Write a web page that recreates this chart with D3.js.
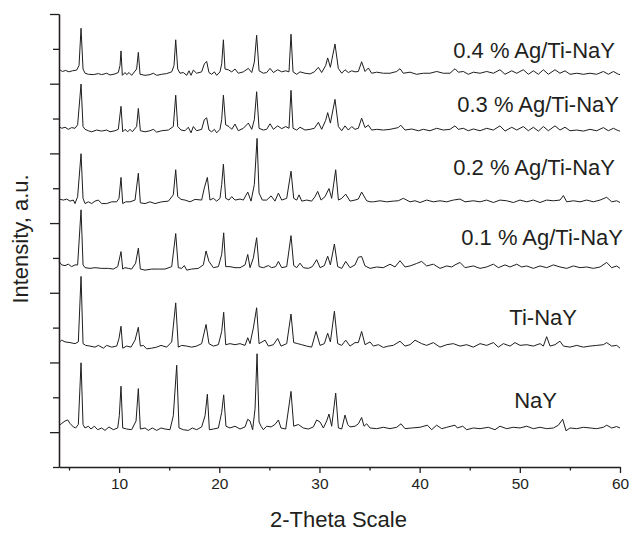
<!DOCTYPE html>
<html>
<head>
<meta charset="utf-8">
<script src="https://cdn.jsdelivr.net/npm/d3@7"></script>
<style>
  body { margin: 0; background: #fff; }
  svg { display: block; font-family: "Liberation Sans", Arial, sans-serif; }
</style>
</head>
<body>
<div id="chart"></div>
<script>
// sample names, bottom to top
const samples = ["NaY", "Ti-NaY", "0.1 % Ag/Ti-NaY", "0.2 % Ag/Ti-NaY", "0.3 % Ag/Ti-NaY", "0.4 % Ag/Ti-NaY"]

// vertical offset of each pattern (same units as intensity)
const offsets = [12, 247, 472, 661, 867, 1030]

// x axis ticks
const xMajor = [10, 20, 30, 40, 50, 60]
const xMinor = [5, 15, 25, 35, 45, 55]
// y axis ticks (no labels in the original)
const yMajor = [0, 200, 400, 600, 800, 1000, 1200]
const yMinor = [-100, 100, 300, 500, 700, 900, 1100]

// patterns: [2-theta, relative intensity]
const nay = [[4.00,7],[4.27,13],[4.60,20],[4.87,23],[5.10,13],[5.43,3],[5.66,0],[5.93,10],[6.20,187],[6.40,10],[6.60,0],[6.93,5],[7.19,-3],[7.53,5],[7.86,-5],[8.26,0],[8.59,-7],[8.99,3],[9.42,-5],[9.86,0],[10.02,35],[10.19,120],[10.36,0],[10.76,-3],[11.25,-5],[11.69,20],[11.92,113],[12.12,-3],[12.59,0],[12.92,-7],[13.32,0],[13.75,-7],[14.18,0],[14.58,-3],[15.08,-5],[15.41,35],[15.75,180],[15.98,0],[16.41,-5],[16.91,-7],[17.31,0],[17.74,-5],[18.24,3],[18.58,35],[18.81,97],[19.01,-5],[19.41,-3],[19.91,0],[20.24,45],[20.44,95],[20.67,5],[21.07,0],[21.57,5],[22.07,-3],[22.57,3],[22.84,25],[23.07,20],[23.33,-5],[23.57,55],[23.77,213],[23.97,17],[24.17,5],[24.40,-5],[24.73,5],[25.17,3],[25.56,10],[25.90,23],[26.16,0],[26.63,-3],[27.16,105],[27.43,5],[27.89,10],[28.39,0],[28.89,-3],[29.39,3],[29.72,23],[30.06,17],[30.39,0],[30.72,20],[30.95,40],[31.22,5],[31.62,100],[31.89,0],[32.22,-3],[32.55,37],[32.82,10],[33.05,3],[33.55,5],
  [33.88,12],[34.21,30],[34.45,5],[34.71,12],[35.05,0],[35.71,-2],[36.38,2],[37.04,-2],[37.71,2],[38.14,12],[38.54,-2],[39.20,0],[40.04,2],[40.77,8],[41.20,-5],[41.70,8],[42.20,-2],[42.70,2],[43.53,8],[43.76,0],[44.30,5],[44.70,-5],[45.36,0],[46.03,-2],[46.86,2],[47.52,-5],[48.02,5],[48.69,-2],[49.35,2],[50.02,0],[50.69,5],[51.35,-2],[52.02,2],[52.68,-2],[53.35,0],[53.85,8],[54.28,25],[54.61,-8],[55.01,0],[55.68,-2],[56.34,2],[57.01,0],[57.67,-2],[58.34,2],[58.67,8],[59.17,0],[59.67,4],[60.00,0]]

const tiNay = [[4.00,10],[4.27,17],[4.60,12],[5.10,10],[5.60,7],[5.93,12],[6.20,200],[6.40,7],[6.66,2],[7.09,0],[7.59,-3],[7.93,2],[8.43,-6],[8.76,2],[9.26,-3],[9.76,0],[9.99,22],[10.19,57],[10.36,-6],[10.76,0],[11.19,-3],[11.59,17],[11.92,54],[12.12,0],[12.42,2],[12.75,-8],[13.25,-6],[13.75,-3],[14.18,2],[14.75,-3],[15.25,12],[15.65,124],[15.91,-3],[16.25,2],[16.75,0],[17.24,-3],[17.74,0],[18.24,7],[18.68,62],[18.97,7],[19.41,0],[19.91,4],[20.24,42],[20.44,97],[20.64,4],[21.07,7],[21.57,4],[22.07,7],[22.57,2],[22.84,24],[23.07,7],[23.40,52],[23.73,110],[23.97,7],[24.57,17],[24.90,0],[25.40,4],[25.83,22],[26.16,0],[26.73,7],[27.16,92],[27.43,10],[27.83,7],[28.23,4],[28.73,0],[29.22,-3],[29.66,42],[30.06,2],[30.49,7],[30.82,37],[31.09,12],[31.49,100],[31.82,7],[32.22,2],[32.62,17],[33.05,0],[33.55,10],
  [33.88,10],[34.21,42],[34.55,4],[35.05,12],[35.38,0],[35.88,4],[36.38,-4],[36.88,0],[37.37,2],[38.04,14],[38.54,0],[39.04,4],[39.54,17],[39.87,12],[40.20,7],[40.70,2],[41.37,10],[42.03,-3],[42.70,4],[43.36,7],[44.03,0],[44.70,4],[45.36,-3],[46.03,7],[46.69,2],[47.36,10],[47.86,-3],[48.36,7],[49.02,0],[49.52,10],[50.02,2],[50.69,4],[51.35,0],[52.02,7],[52.35,0],[52.68,27],[53.02,0],[53.51,4],[54.01,14],[54.35,0],[55.01,-3],[55.68,2],[56.34,-3],[57.01,0],[57.67,2],[58.34,4],[58.67,10],[59.17,0],[59.67,2],[60.00,-6]]

const ag01 = [[4.00,18],[4.27,8],[4.60,6],[4.93,10],[5.26,3],[5.60,8],[5.86,8],[6.20,166],[6.40,8],[6.60,0],[7.09,-2],[7.59,0],[8.26,-2],[8.93,-2],[9.42,-4],[9.86,3],[10.19,46],[10.36,-4],[10.59,0],[10.92,-2],[11.25,-4],[11.65,13],[11.92,56],[12.12,-4],[12.59,-7],[13.25,-4],[13.92,-4],[14.58,-4],[15.25,3],[15.65,98],[15.91,0],[16.25,-2],[16.51,6],[16.75,-7],[17.24,-4],[17.91,-2],[18.41,8],[18.68,48],[18.97,18],[19.41,0],[19.91,3],[20.24,38],[20.44,100],[20.64,3],[21.07,3],[21.57,0],[22.07,0],[22.57,8],[22.84,38],[23.07,0],[23.40,28],[23.73,86],[23.97,3],[24.40,0],[24.90,6],[25.23,0],[25.63,3],[25.90,18],[26.23,0],[26.73,3],[27.16,92],[27.43,6],[27.73,0],[28.06,13],[28.39,0],[28.89,-2],[29.29,3],[29.72,23],[30.06,0],[30.49,6],[30.82,33],[31.09,8],[31.49,68],[31.82,3],[32.22,-2],[32.62,18],[33.05,0],[33.55,8],
  [33.88,30],[34.21,32],[34.55,5],[35.05,-2],[35.71,2],[36.38,0],[37.04,10],[37.54,2],[38.04,20],[38.54,2],[39.04,5],[39.70,12],[40.20,18],[40.70,5],[41.37,10],[42.03,-2],[42.70,5],[43.20,2],[43.53,8],[44.03,15],[44.53,0],[45.36,5],[46.03,-2],[46.69,2],[47.36,10],[47.86,0],[48.52,8],[49.02,2],[49.69,10],[50.19,2],[50.69,5],[51.35,-2],[52.02,5],[52.68,0],[53.35,8],[54.01,2],[54.68,-2],[55.35,5],[56.01,0],[56.68,2],[57.34,-2],[58.01,2],[58.67,15],[59.17,0],[59.67,5],[60.00,-2]]

const ag02 = [[4.00,8],[4.43,5],[4.77,8],[5.10,2],[5.43,5],[5.60,-5],[5.86,15],[6.20,138],[6.40,10],[6.60,-5],[6.93,0],[7.26,-5],[7.59,2],[7.93,5],[8.26,-5],[8.76,-5],[9.26,0],[9.76,0],[9.99,10],[10.19,70],[10.36,-5],[10.66,0],[11.09,0],[11.59,5],[11.92,82],[12.12,-3],[12.59,-5],[13.08,0],[13.58,-5],[14.25,0],[14.92,2],[15.41,20],[15.65,92],[15.85,15],[16.18,7],[16.58,5],[17.08,0],[17.58,7],[18.24,5],[18.51,40],[18.81,70],[19.07,5],[19.41,10],[19.74,2],[20.07,10],[20.24,50],[20.41,108],[20.64,10],[20.97,5],[21.24,15],[21.57,5],[22.07,8],[22.40,5],[22.84,28],[23.17,2],[23.50,50],[23.77,182],[23.97,25],[24.30,5],[24.73,5],[25.17,17],[25.56,2],[25.90,25],[26.23,5],[26.73,10],[27.16,88],[27.43,10],[27.73,5],[27.96,20],[28.23,2],[28.73,5],[29.22,2],[29.56,15],[29.82,30],[30.16,5],[30.56,15],[30.95,38],[31.22,10],[31.62,92],[31.89,5],[32.22,10],[32.62,22],[33.05,2],[33.55,5],
  [33.88,8],[34.21,28],[34.71,3],[35.05,0],[35.38,0],[36.05,3],[36.71,0],[37.37,2],[37.87,3],[38.37,10],[39.04,0],[39.54,3],[40.04,-2],[40.70,5],[41.37,0],[42.03,3],[42.70,0],[43.36,5],[44.03,8],[44.53,0],[45.36,3],[46.03,0],[46.69,5],[47.36,-2],[48.02,5],[48.69,3],[49.35,-2],[50.02,5],[50.69,0],[51.35,5],[52.02,-2],[52.68,5],[53.35,3],[54.01,5],[54.35,18],[54.68,0],[55.35,3],[56.01,0],[56.68,5],[57.34,0],[58.01,5],[58.67,13],[59.17,0],[59.67,3],[60.00,-2]]

const ag03 = [[4.00,10],[4.27,5],[4.60,8],[4.93,2],[5.26,7],[5.60,5],[5.86,15],[6.20,132],[6.40,10],[6.60,2],[6.93,-2],[7.26,-5],[7.76,0],[8.26,-3],[8.76,0],[9.09,-5],[9.59,-2],[9.92,2],[10.19,68],[10.36,-5],[10.59,2],[10.86,-5],[11.09,2],[11.32,-5],[11.75,10],[11.92,62],[12.12,-2],[12.59,-5],[13.08,-2],[13.42,2],[13.75,-6],[14.25,-2],[14.92,0],[15.41,10],[15.65,100],[15.85,10],[16.18,0],[16.58,-2],[16.91,8],[17.18,-8],[17.41,10],[17.74,-2],[18.24,2],[18.51,30],[18.74,35],[18.97,0],[19.24,-5],[19.51,2],[19.74,-8],[20.07,2],[20.24,30],[20.41,100],[20.64,15],[20.97,10],[21.24,2],[21.57,17],[21.90,-2],[22.40,5],[22.90,20],[23.24,2],[23.50,30],[23.73,110],[23.97,5],[24.40,0],[24.73,2],[25.07,18],[25.40,2],[25.83,12],[26.23,4],[26.63,10],[26.96,5],[27.16,114],[27.36,5],[27.73,0],[28.06,8],[28.56,0],[29.06,2],[29.49,5],[29.89,22],[30.22,2],[30.62,28],[30.82,50],[31.09,20],[31.55,88],[31.89,10],[32.22,-2],[32.55,12],[32.88,0],[33.22,10],[33.55,2],
  [33.88,5],[34.21,34],[34.55,7],[34.88,14],[35.21,0],[35.71,2],[36.38,0],[37.04,2],[37.87,7],[38.11,14],[38.54,0],[39.20,3],[39.87,-2],[40.37,2],[41.03,-2],[41.70,5],[42.37,0],[43.03,2],[43.53,12],[43.86,2],[44.36,5],[44.86,-2],[45.36,3],[46.03,-2],[46.69,5],[47.36,0],[48.02,12],[48.52,-3],[49.19,8],[49.69,0],[50.35,10],[50.85,-2],[51.35,8],[51.85,-3],[52.35,10],[52.85,-2],[53.51,12],[54.01,0],[54.51,8],[55.01,-2],[55.68,0],[56.34,-3],[57.01,2],[57.67,-2],[58.34,7],[58.84,-2],[59.34,5],[59.84,-2],[60.00,-3]]

const ag04 = [[4.00,12],[4.33,5],[4.67,8],[5.00,4],[5.33,7],[5.76,9],[6.00,22],[6.20,129],[6.40,12],[6.60,0],[6.93,-3],[7.43,-4],[7.93,-1],[8.26,-4],[8.76,0],[9.09,-5],[9.59,-2],[9.92,2],[10.09,22],[10.19,64],[10.32,-6],[10.59,2],[10.76,-4],[10.99,2],[11.25,-6],[11.75,12],[11.92,60],[12.09,-3],[12.59,-6],[13.08,-4],[13.42,0],[13.75,-6],[14.25,-3],[14.75,-1],[15.25,4],[15.48,22],[15.65,96],[15.85,12],[16.08,0],[16.41,2],[16.75,-6],[16.98,7],[17.18,-6],[17.41,9],[17.74,0],[18.24,4],[18.51,27],[18.74,34],[18.97,2],[19.24,-3],[19.51,4],[19.74,-6],[20.07,4],[20.24,27],[20.41,96],[20.57,12],[20.90,10],[21.24,4],[21.57,12],[21.90,0],[22.40,4],[22.90,14],[23.24,2],[23.50,32],[23.73,109],[23.97,7],[24.40,0],[24.73,2],[25.07,14],[25.40,2],[25.83,10],[26.23,4],[26.63,7],[26.96,4],[27.16,112],[27.36,4],[27.73,-3],[28.06,4],[28.56,0],[29.06,-2],[29.49,4],[29.89,17],[30.22,2],[30.62,22],[30.82,44],[31.09,17],[31.55,84],[31.88,14],[32.22,0],[32.55,10],[32.88,2],[33.22,7],[33.55,4],
  [33.88,5],[34.21,33],[34.55,5],[34.88,15],[35.21,0],[35.71,3],[36.38,0],[37.04,0],[37.71,5],[38.04,13],[38.37,0],[39.04,3],[39.70,-3],[40.37,0],[41.03,0],[41.70,5],[42.37,0],[43.03,0],[43.53,13],[43.86,3],[44.36,5],[44.86,-3],[45.36,3],[46.03,0],[46.69,5],[47.36,0],[48.02,10],[48.52,-3],[49.19,7],[49.69,0],[50.35,10],[50.85,-3],[51.35,7],[51.85,-3],[52.35,10],[52.85,-3],[53.51,10],[54.01,0],[54.51,7],[55.01,-3],[55.68,0],[56.34,-3],[57.01,0],[57.67,-3],[58.34,5],[58.84,-3],[59.34,5],[59.84,-3],[60.00,-4]]

const patterns = [nay, tiNay, ag01, ag02, ag03, ag04]

// LAYOUT
const width = 632
const height = 534
const ink = "#231f20"

// where each sample name sits (right end, baseline)
const labelPos = [[557, 408], [577, 325], [623, 245], [615, 175], [619, 112], [615, 58]]

const x = d3.scaleLinear().domain([4, 60]).range([59, 620])
const y = d3.scaleLinear().domain([-100, 1200]).range([467, 14])

const svg = d3.select("#chart").append("svg")
    .attr("width", width)
    .attr("height", height)

svg.append("rect").attr("width", width).attr("height", height).attr("fill", "#fff")

// patterns
const line = d3.line()
    .x(d => x(d[0]))
    .y(d => y(d[1] + d.off))

patterns.forEach((p, i) => {
    const pts = p.map(d => { const q = [d[0], d[1]]; q.off = offsets[i]; return q })
    svg.append("path")
        .attr("d", line(pts))
        .attr("fill", "none")
        .attr("stroke", "#1e1e1e")
        .attr("stroke-width", 1)
        .attr("stroke-linejoin", "round")
})

// sample names
svg.append("g").selectAll("text")
    .data(samples)
    .join("text")
    .attr("x", (d, i) => labelPos[i][0])
    .attr("y", (d, i) => labelPos[i][1])
    .attr("text-anchor", "end")
    .attr("font-size", 22)
    .attr("fill", ink)
    .text(d => d)

// x axis
const gx = svg.append("g").attr("transform", `translate(0,${y(-100)})`)
gx.call(d3.axisBottom(x).tickValues(xMajor).tickSize(6).tickSizeOuter(0).tickPadding(5))
gx.append("g").call(d3.axisBottom(x).tickValues(xMinor).tickSize(3.5).tickFormat(""))
gx.selectAll(".domain").filter((d, i) => i > 0).remove()
gx.selectAll("text").attr("font-size", 15.5).attr("font-family", "Liberation Sans, Arial, sans-serif").attr("fill", ink)
gx.selectAll("line, path").attr("stroke", ink).attr("stroke-width", 1.3)

// y axis
const gy = svg.append("g").attr("transform", `translate(${x(4)},0)`)
gy.call(d3.axisLeft(y).tickValues(yMajor).tickSize(9).tickSizeOuter(0).tickFormat(""))
gy.append("g").call(d3.axisLeft(y).tickValues(yMinor).tickSize(6).tickSizeOuter(0).tickFormat(""))
gy.selectAll("line, path").attr("stroke", ink).attr("stroke-width", 1.3)

// axis titles
svg.append("text")
    .attr("x", 338.5)
    .attr("y", 527)
    .attr("text-anchor", "middle")
    .attr("font-size", 22)
    .attr("fill", ink)
    .text("2-Theta Scale")

svg.append("text")
    .attr("transform", "translate(28,239) rotate(-90)")
    .attr("text-anchor", "middle")
    .attr("font-size", 22)
    .attr("fill", ink)
    .text("Intensity, a.u.")
</script>
</body>
</html>
